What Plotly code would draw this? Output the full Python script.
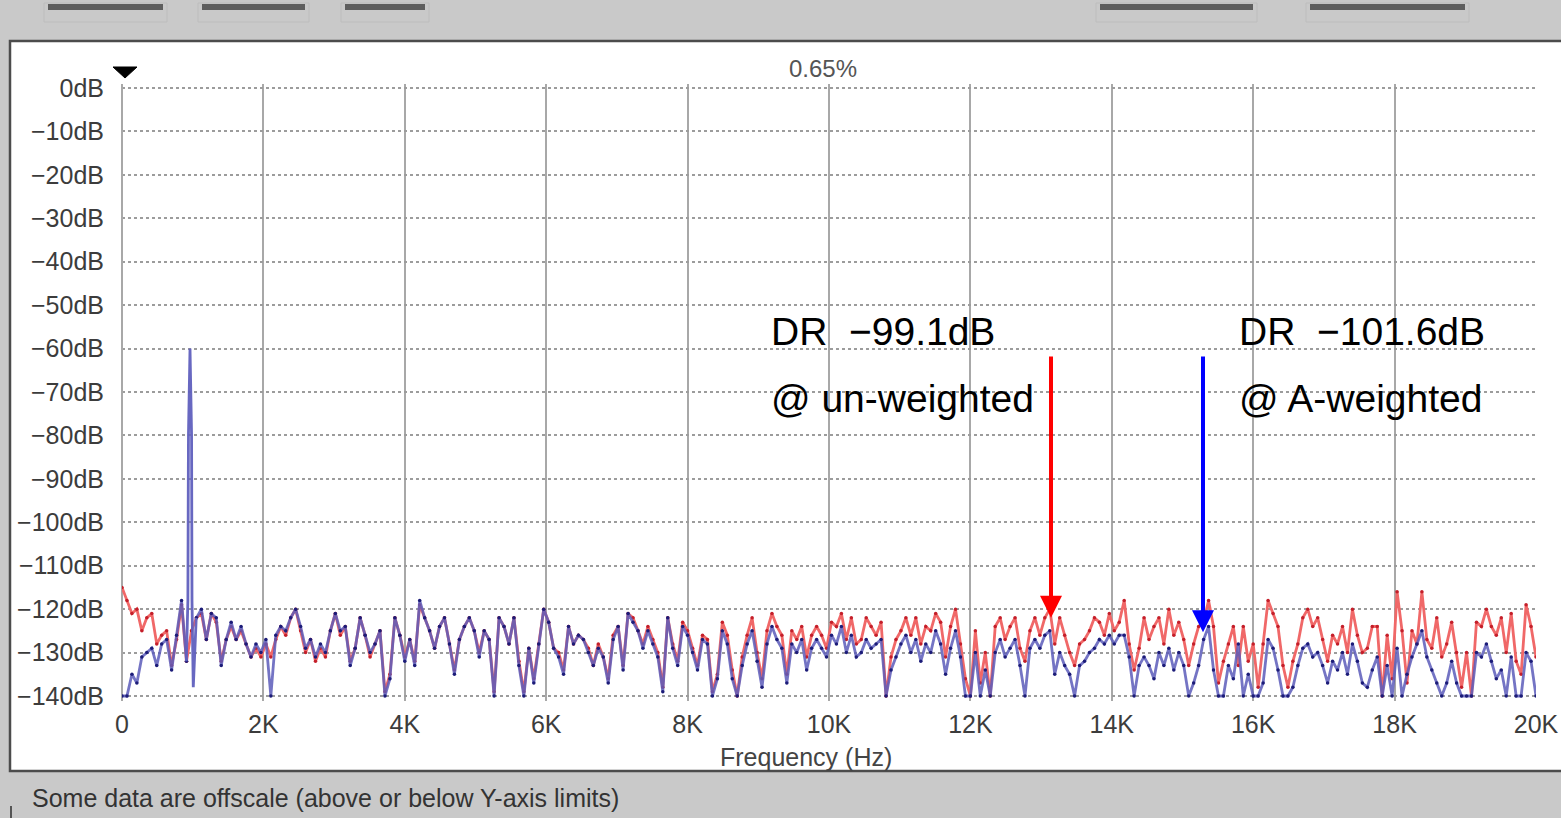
import numpy as np
import plotly.graph_objects as go

# ---------------- data ----------------
unweighted_db = [
    -115, -118, -121, -120, -125, -122, -121, -128, -126, -125, -133, -127, -119,
    -132, -125,
    -122, -121, -127, -121, -123, -132, -127, -124, -127, -125, -128, -131, -129, -131, -128, -131,
    -127, -124, -126, -122, -120, -125, -130, -127, -132, -129, -131, -125, -121, -126, -124, -132, -129,
    -122, -126, -131, -128, -125, -139, -135, -122, -126, -131,
    -127, -132, -119, -122, -125, -129, -124, -122, -128, -134,
    -127, -124, -122, -125, -130, -125, -127, -139, -122, -124,
    -128, -122, -132, -139, -129, -136, -128, -120, -123, -129,
    -130, -134, -124, -128, -126, -127, -129, -133, -128, -131,
    -136, -126, -124, -133, -121, -122, -125, -128, -124, -127,
    -130, -138, -122, -128, -132, -123, -125, -129, -133, -126,
    -127, -139, -135,
    -123, -126, -134, -140, -131, -126, -122, -130, -136, -125, -121, -124, -126, -135, -125, -127,
    -124, -131, -126, -124, -126, -129,
    -123, -124, -121, -127, -122, -128, -127, -122, -124, -126, -123, -140, -131, -127, -125, -122,
    -126, -122, -128, -124, -125, -121, -123, -131, -124, -120, -128, -136, -140, -125, -137, -130,
    -140, -124, -122, -127, -124, -122, -129, -132, -125, -122, -126, -122, -120, -128, -122, -126,
    -130, -133, -128,
    -127, -125, -122, -123, -126, -121, -125, -123, -118, -128, -134, -129, -122, -127, -124, -122,
    -128, -120, -126, -123, -127, -133, -128, -124, -123, -118, -124, -137, -132, -128, -124, -133,
    -124, -132, -128, -138, -128, -118, -121, -124, -133, -138, -132, -128, -122, -120, -124,
    -122, -127, -132, -126, -128, -124, -130, -120, -126, -130, -129, -124, -124, -140, -126, -136,
    -116, -125, -137, -125, -128, -116, -127, -129, -122, -131, -128, -123, -130, -138, -130, -140,
    -123, -124, -120, -124, -126, -122, -130, -121, -132, -135, -119, -124, -131,
]

a_weighted_db = [
    -140, -140, -135, -137, -131, -130, -129, -133, -128, -127, -134, -126, -118,
    -132, None,
    -122, -120, -127, -121, -122, -133, -127, -123, -127, -124, -128, -131, -128, -130, -127, -140,
    -126, -124, -125, -122, -120, -124, -129, -127, -131, -128, -130, -125, -121, -125, -124, -133, -129,
    -122, -126, -130, -128, -125, -140, -136, -122, -126, -132,
    -127, -133, -118, -122, -125, -129, -124, -122, -128, -135,
    -127, -124, -122, -125, -131, -125, -127, -140, -122, -124,
    -128, -122, -133, -140, -129, -137, -128, -120, -123, -129,
    -131, -135, -124, -128, -126, -127, -130, -133, -129, -131,
    -137, -127, -124, -134, -121, -123, -125, -129, -125, -128,
    -131, -139, -122, -129, -133, -124, -126, -130, -134, -127,
    -128, -140, -136,
    -125, -128, -136, -140, -133, -128, -125, -132, -138, -128, -124, -127, -129, -137, -128, -130,
    -127, -134, -129, -127, -129, -131,
    -126, -128, -124, -130, -126, -131, -130, -127, -129, -128, -127, -140, -134, -131, -128, -126,
    -130, -127, -132, -128, -130, -125, -128, -135, -129, -125, -131, -140, -140, -130, -140, -134,
    -140, -130, -127, -131, -129, -127, -133, -140, -129, -127, -129, -126, -125, -135, -130, -133,
    -135, -140, -133,
    -132, -130, -129, -127, -128, -126, -128, -126, -126, -131, -140, -133, -131, -133, -136, -130,
    -133, -129, -134, -130, -133, -140, -137, -133, -127, -124, -134, -140, -140, -133, -136, -128,
    -140, -135, -140, -140, -137, -127, -129, -134, -140, -140, -138, -133, -129, -128, -131,
    -130, -133, -137, -132, -134, -130, -135, -128, -132, -137, -138, -134, -131, -140, -133, -140,
    -129, -140, -135, -131, -128, -125, -131, -134, -137, -140, -137, -132, -137, -140, -140, -140,
    -130, -131, -128, -132, -136, -134, -140, -131, -140, -140, -130, -132, -140,
]

# test tone region (drawn at finer frequency resolution)
tone_freq = [910, 925, 932, 940, 962, 984, 990, 1008, 1050]
tone_db = [-132, -121, -118, -80, -60, -80, -118, -138, -122]

freq_max = 20000
unweighted_freq = np.linspace(0, freq_max, len(unweighted_db))
a_weighted_freq = np.linspace(0, freq_max, len(a_weighted_db))

y_tick_vals = [0, -10, -20, -30, -40, -50, -60, -70, -80, -90, -100, -110, -120, -130, -140]
y_tick_text = ["0dB", "−10dB", "−20dB", "−30dB", "−40dB", "−50dB", "−60dB", "−70dB",
               "−80dB", "−90dB", "−100dB", "−110dB", "−120dB", "−130dB", "−140dB"]
x_tick_vals = [0, 2000, 4000, 6000, 8000, 10000, 12000, 14000, 16000, 18000, 20000]
x_tick_text = ["0", "2K", "4K", "6K", "8K", "10K", "12K", "14K", "16K", "18K", "20K"]

# DR markers
dr_unweighted = dict(freq=13140, tip=-122.0, tail=-61.5, label="DR\u00a0\u00a0−99.1dB", sub="@ un-weighted")
dr_a_weighted = dict(freq=15290, tip=-125.3, tail=-61.5, label="DR\u00a0\u00a0−101.6dB", sub="@ A-weighted")

# ---------------- layout geometry ----------------
W, H = 1561, 818
L, R, T, B = 122, 25, 84, 117
PW, PH = W - L - R, H - T - B


def xp(px):
    return (px - L) / PW


def yp(py):
    return (H - B - py) / PH


FONT = "Liberation Sans, Arial, sans-serif"

fig = go.Figure()

fig.add_trace(go.Scatter(
    x=unweighted_freq, y=unweighted_db, mode="lines+markers",
    line=dict(color="#f06868", width=2.8),
    marker=dict(size=3.5, color="#c41f2a"),
    connectgaps=False, hoverinfo="skip"))

fig.add_trace(go.Scatter(
    x=a_weighted_freq, y=a_weighted_db, mode="lines+markers",
    line=dict(color="rgba(92,92,186,0.85)", width=2.8),
    marker=dict(size=3.5, color="#1c1c78"),
    connectgaps=False, hoverinfo="skip"))

fig.add_trace(go.Scatter(
    x=tone_freq, y=tone_db, mode="lines",
    line=dict(color="rgba(96,96,190,0.95)", width=2.8),
    hoverinfo="skip"))

shapes = []
# white panel with dark frame
shapes.append(dict(type="rect", xref="paper", yref="paper",
                   x0=xp(10), x1=xp(1575), y0=yp(771), y1=yp(41),
                   fillcolor="white", line=dict(color="#4c4c4c", width=2.5), layer="below"))
# top button bars
for a, b in [(48, 163), (202, 305), (345, 425), (1100, 1253), (1310, 1465)]:
    shapes.append(dict(type="rect", xref="paper", yref="paper",
                       x0=xp(a - 4), x1=xp(b + 4), y0=yp(22), y1=yp(3),
                       fillcolor="rgba(0,0,0,0)", line=dict(color="#bdbdbd", width=1), layer="below"))
    shapes.append(dict(type="rect", xref="paper", yref="paper",
                       x0=xp(a), x1=xp(b), y0=yp(10), y1=yp(4),
                       fillcolor="#5e5e5e", line=dict(width=0), layer="below"))
# small mark bottom-left
shapes.append(dict(type="line", xref="paper", yref="paper",
                   x0=xp(11), x1=xp(11), y0=yp(806), y1=yp(818),
                   line=dict(color="#555", width=2), layer="below"))
# black triangle marker
tri = "M {} {} L {} {} L {} {} Z".format(xp(113), yp(67), xp(137), yp(67), xp(125), yp(78))
shapes.append(dict(type="path", xref="paper", yref="paper", path=tri,
                   fillcolor="black", line=dict(color="black", width=1)))

annotations = []


def txt(text, x, y, size, color, xanchor="center", yanchor="middle"):
    annotations.append(dict(text=text, xref="paper", yref="paper", x=xp(x), y=yp(y),
                            showarrow=False, xanchor=xanchor, yanchor=yanchor,
                            font=dict(family=FONT, size=size, color=color)))


txt("0.65%", 823, 69, 24, "#555555")
txt("Frequency (Hz)", 806, 757, 25, "#444444")
txt("Some data are offscale (above or below Y-axis limits)", 30, 798, 25, "#333333", xanchor="left")
txt(dr_unweighted["label"], 769, 331, 39, "black", xanchor="left")
txt(dr_unweighted["sub"], 769, 398, 39, "black", xanchor="left")
txt(dr_a_weighted["label"], 1237, 331, 39, "black", xanchor="left")
txt(dr_a_weighted["sub"], 1237, 398, 39, "black", xanchor="left")

for m, col in [(dr_unweighted, "#ff0000"), (dr_a_weighted, "#0000ff")]:
    annotations.append(dict(x=m["freq"], y=m["tip"], ax=m["freq"], ay=m["tail"],
                            xref="x", yref="y", axref="x", ayref="y", text="",
                            showarrow=True, arrowhead=2, arrowsize=1.1, arrowwidth=4,
                            arrowcolor=col, standoff=0))

px_per_db = 608 / 140
y_top = 0 + (88 - T) / px_per_db
y_bot = -140 - ((H - B) - 696) / px_per_db

fig.update_layout(
    width=W, height=H, autosize=False,
    margin=dict(l=L, r=R, t=T, b=B, pad=0, autoexpand=False),
    paper_bgcolor="#c9c9c9", plot_bgcolor="white",
    showlegend=False,
    shapes=shapes, annotations=annotations,
    xaxis=dict(range=[0, freq_max], tickvals=x_tick_vals, ticktext=x_tick_text,
               automargin=False,
               showgrid=True, gridcolor="#a8a8a8", gridwidth=2,
               zeroline=True, zerolinecolor="#a8a8a8", zerolinewidth=2,
               showline=False, ticks="outside", ticklen=1, tickcolor="rgba(0,0,0,0)",
               tickfont=dict(family=FONT, size=25, color="#3c3c3c"), fixedrange=True),
    yaxis=dict(range=[y_bot, y_top], tickvals=y_tick_vals, ticktext=y_tick_text,
               automargin=False,
               showgrid=True, gridcolor="#9c9c9c", gridwidth=2, griddash="dot",
               zeroline=False, showline=False, ticks="outside", ticklen=12,
               tickcolor="rgba(0,0,0,0)",
               tickfont=dict(family=FONT, size=25, color="#3c3c3c"), fixedrange=True),
)

fig.write_html("out.html", config={"displayModeBar": False})
